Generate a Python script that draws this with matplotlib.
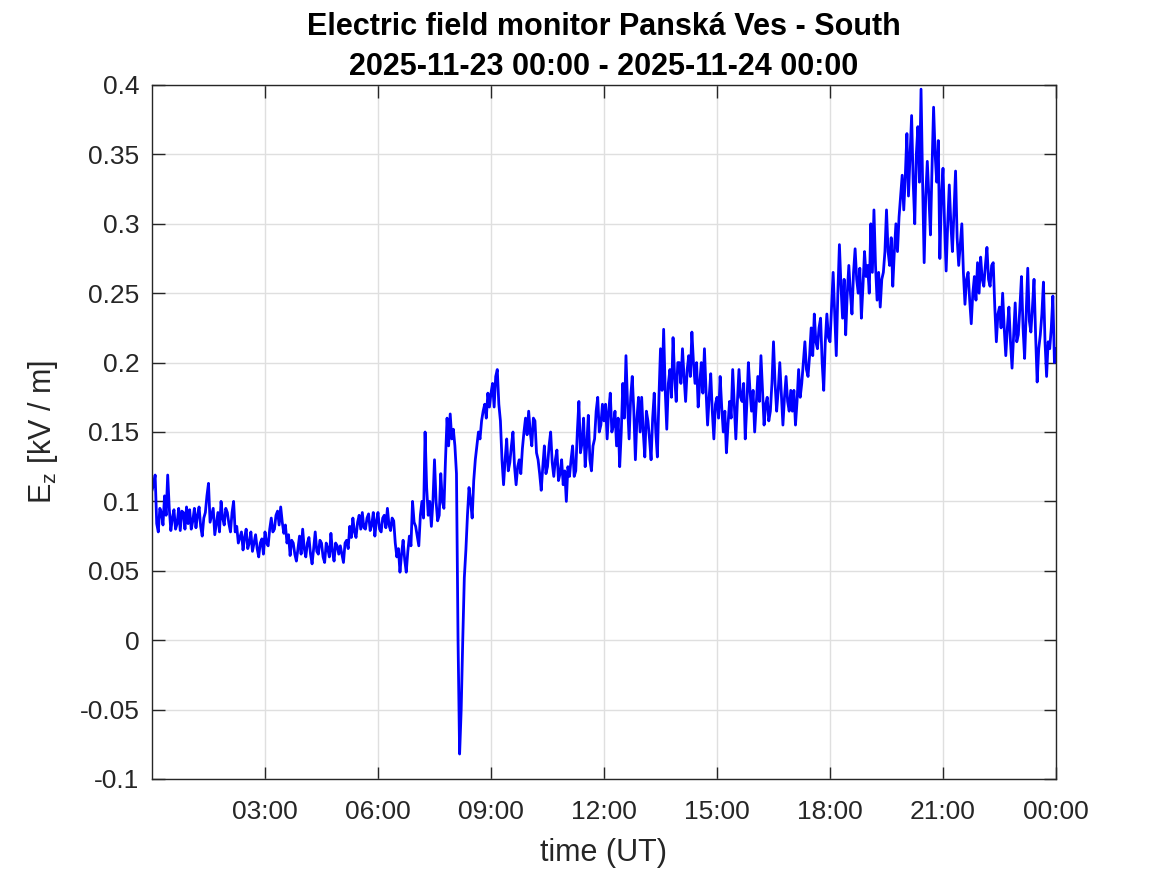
import numpy as np
import matplotlib
matplotlib.use('Agg')
import matplotlib.pyplot as plt

# Ez readings (kV/m), one value every 2.5 minutes, hour by hour
h00 = [0.108, 0.112, 0.119, 0.084, 0.078, 0.095, 0.092, 0.083, 0.104, 0.090, 0.119, 0.095,
       0.079, 0.088, 0.094, 0.080, 0.084, 0.095, 0.079, 0.093, 0.092, 0.080, 0.096, 0.084]
h01 = [0.094, 0.080, 0.086, 0.095, 0.081, 0.090, 0.096, 0.082, 0.075, 0.088, 0.092, 0.104,
       0.113, 0.085, 0.090, 0.095, 0.076, 0.084, 0.092, 0.078, 0.100, 0.088, 0.083, 0.095]
h02 = [0.092, 0.084, 0.078, 0.092, 0.100, 0.078, 0.082, 0.070, 0.074, 0.078, 0.065, 0.074,
       0.080, 0.066, 0.070, 0.078, 0.064, 0.070, 0.076, 0.066, 0.060, 0.070, 0.073, 0.062]
h03 = [0.078, 0.070, 0.068, 0.080, 0.088, 0.078, 0.080, 0.090, 0.093, 0.083, 0.096, 0.085,
       0.077, 0.083, 0.070, 0.076, 0.061, 0.072, 0.070, 0.062, 0.057, 0.066, 0.075, 0.062]
h04 = [0.080, 0.066, 0.060, 0.070, 0.074, 0.062, 0.055, 0.066, 0.078, 0.064, 0.062, 0.072,
       0.070, 0.060, 0.056, 0.070, 0.066, 0.060, 0.077, 0.064, 0.057, 0.070, 0.068, 0.062]
h05 = [0.068, 0.062, 0.056, 0.070, 0.072, 0.066, 0.082, 0.074, 0.088, 0.078, 0.074, 0.085,
       0.090, 0.080, 0.092, 0.081, 0.080, 0.088, 0.091, 0.079, 0.083, 0.092, 0.075, 0.086]
h06 = [0.092, 0.080, 0.078, 0.088, 0.090, 0.081, 0.095, 0.083, 0.079, 0.088, 0.086, 0.070,
       0.060, 0.066, 0.049, 0.062, 0.072, 0.058, 0.049, 0.064, 0.075, 0.068, 0.100, 0.085]
h07 = [0.082, 0.075, 0.068, 0.090, 0.100, 0.088, 0.150, 0.110, 0.090, 0.100, 0.082, 0.100,
       0.130, 0.100, 0.086, 0.090, 0.120, 0.100, 0.095, 0.130, 0.160, 0.140, 0.163, 0.145]
h08 = [0.152, 0.140, 0.120, 0.000, -0.082, -0.050, 0.000, 0.045, 0.065, 0.090, 0.110, 0.100,
       0.088, 0.115, 0.130, 0.140, 0.150, 0.145, 0.158, 0.165, 0.170, 0.160, 0.178, 0.168]
h09 = [0.178, 0.185, 0.168, 0.190, 0.195, 0.170, 0.158, 0.130, 0.112, 0.130, 0.145, 0.122,
       0.128, 0.140, 0.150, 0.125, 0.112, 0.125, 0.130, 0.120, 0.138, 0.150, 0.160, 0.148]
h10 = [0.165, 0.150, 0.140, 0.160, 0.158, 0.135, 0.130, 0.120, 0.108, 0.125, 0.140, 0.120,
       0.125, 0.140, 0.150, 0.128, 0.118, 0.130, 0.137, 0.115, 0.120, 0.130, 0.112, 0.122]
h11 = [0.100, 0.125, 0.118, 0.130, 0.140, 0.118, 0.122, 0.150, 0.172, 0.135, 0.142, 0.160,
       0.125, 0.140, 0.162, 0.130, 0.122, 0.140, 0.145, 0.165, 0.175, 0.150, 0.155, 0.170]
h12 = [0.158, 0.170, 0.145, 0.165, 0.178, 0.150, 0.155, 0.165, 0.140, 0.160, 0.125, 0.150,
       0.185, 0.160, 0.205, 0.170, 0.145, 0.175, 0.190, 0.165, 0.130, 0.160, 0.175, 0.150]
h13 = [0.175, 0.150, 0.132, 0.165, 0.158, 0.145, 0.130, 0.160, 0.178, 0.150, 0.132, 0.175,
       0.210, 0.180, 0.224, 0.180, 0.152, 0.185, 0.195, 0.175, 0.218, 0.190, 0.172, 0.200]
h14 = [0.200, 0.185, 0.210, 0.190, 0.172, 0.195, 0.205, 0.190, 0.222, 0.200, 0.185, 0.200,
       0.168, 0.185, 0.200, 0.178, 0.210, 0.180, 0.155, 0.175, 0.192, 0.165, 0.145, 0.170]
h15 = [0.175, 0.160, 0.190, 0.168, 0.150, 0.165, 0.135, 0.155, 0.172, 0.160, 0.195, 0.170,
       0.145, 0.172, 0.195, 0.175, 0.172, 0.185, 0.145, 0.170, 0.200, 0.180, 0.165, 0.180]
h16 = [0.150, 0.170, 0.190, 0.172, 0.205, 0.180, 0.155, 0.170, 0.175, 0.158, 0.165, 0.185,
       0.215, 0.185, 0.165, 0.180, 0.200, 0.178, 0.155, 0.175, 0.190, 0.172, 0.165, 0.180]
h17 = [0.165, 0.180, 0.155, 0.172, 0.195, 0.175, 0.185, 0.200, 0.215, 0.195, 0.190, 0.205,
       0.225, 0.205, 0.235, 0.215, 0.210, 0.225, 0.232, 0.200, 0.180, 0.215, 0.235, 0.218]
h18 = [0.215, 0.240, 0.265, 0.235, 0.205, 0.250, 0.285, 0.255, 0.232, 0.260, 0.220, 0.250,
       0.270, 0.250, 0.235, 0.265, 0.282, 0.260, 0.250, 0.268, 0.232, 0.255, 0.280, 0.262]
h19 = [0.270, 0.250, 0.300, 0.265, 0.310, 0.270, 0.245, 0.265, 0.240, 0.260, 0.265, 0.280,
       0.310, 0.280, 0.270, 0.290, 0.255, 0.280, 0.300, 0.280, 0.305, 0.320, 0.335, 0.310]
h20 = [0.335, 0.365, 0.320, 0.350, 0.378, 0.330, 0.300, 0.350, 0.370, 0.330, 0.397, 0.330,
       0.272, 0.320, 0.345, 0.320, 0.292, 0.340, 0.384, 0.350, 0.330, 0.360, 0.275, 0.320]
h21 = [0.340, 0.300, 0.266, 0.300, 0.328, 0.300, 0.280, 0.310, 0.338, 0.290, 0.270, 0.285,
       0.300, 0.265, 0.242, 0.260, 0.265, 0.245, 0.228, 0.250, 0.262, 0.245, 0.272, 0.250]
h22 = [0.276, 0.260, 0.255, 0.270, 0.283, 0.260, 0.255, 0.270, 0.272, 0.240, 0.215, 0.235,
       0.240, 0.225, 0.250, 0.225, 0.205, 0.225, 0.240, 0.215, 0.196, 0.220, 0.243, 0.215]
h23 = [0.220, 0.240, 0.262, 0.225, 0.203, 0.235, 0.268, 0.230, 0.222, 0.240, 0.260, 0.220,
       0.186, 0.210, 0.220, 0.235, 0.258, 0.215, 0.190, 0.215, 0.210, 0.225, 0.248, 0.200]
h24 = [0.210]

ez = np.array(h00 + h01 + h02 + h03 + h04 + h05 + h06 + h07 + h08 + h09 + h10 + h11 +
              h12 + h13 + h14 + h15 + h16 + h17 + h18 + h19 + h20 + h21 + h22 + h23 + h24)
t_hours = np.arange(len(ez)) * 2.5 / 60.0

xtick_pos = [3, 6, 9, 12, 15, 18, 21, 24]
xtick_lab = ['03:00', '06:00', '09:00', '12:00', '15:00', '18:00', '21:00', '00:00']
ytick_pos = [-0.1, -0.05, 0, 0.05, 0.1, 0.15, 0.2, 0.25, 0.3, 0.35, 0.4]
ytick_lab = ['-0.1', '-0.05', '0', '0.05', '0.1', '0.15', '0.2', '0.25', '0.3', '0.35', '0.4']

plt.rcParams['font.family'] = ['Liberation Sans', 'DejaVu Sans']
plt.rcParams['mathtext.fontset'] = 'custom'
plt.rcParams['mathtext.rm'] = 'Liberation Sans'

fig = plt.figure(figsize=(11.67, 8.75), dpi=100)
ax = fig.add_axes([152 / 1167, 1 - 779 / 875, (1056 - 152) / 1167, (779 - 85) / 875])

ax.plot(t_hours, ez, color='#0000ff', lw=2.0)

ax.set_xlim(0, 24)
ax.set_ylim(-0.1, 0.4)
ax.set_xticks(xtick_pos)
ax.set_xticklabels(xtick_lab)
ax.set_yticks(ytick_pos)
ax.set_yticklabels(ytick_lab)

ax.grid(True, color='#dfdfdf', lw=1)
ax.set_axisbelow(True)
for s in ax.spines.values():
    s.set_color('#262626')
    s.set_linewidth(1.0)
ax.tick_params(direction='in', length=9, width=1, color='#262626',
               top=True, right=True, labelsize=19, labelcolor='#262626', pad=9)
ax.tick_params(axis='x', pad=15)

ax.set_xlabel('time (UT)', fontsize=22, color='#262626', labelpad=10)
ax.set_ylabel(r'E$_\mathregular{z}$ [kV / m]', fontsize=22, color='#262626', labelpad=14)
ax.set_title('Electric field monitor Panská Ves - South\n2025-11-23 00:00 - 2025-11-24 00:00',
             fontsize=22, fontweight='bold', linespacing=1.45, pad=7)

fig.savefig('out.png', dpi=100)
